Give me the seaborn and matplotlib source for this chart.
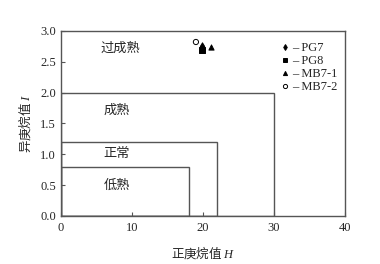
import matplotlib
matplotlib.use("Agg")
import matplotlib.pyplot as plt
import seaborn as sns
import pandas as pd
from matplotlib.patches import Rectangle
from matplotlib.lines import Line2D

sns.set_style("ticks")
plt.rcParams['font.family'] = ['Liberation Serif', 'Noto Sans CJK SC']
plt.rcParams['mathtext.fontset'] = 'custom'
plt.rcParams['mathtext.it'] = 'Liberation Serif:italic'
plt.rcParams['mathtext.rm'] = 'Liberation Serif'

samples = ["PG7", "PG8", "MB7-1", "MB7-2"]
heptane_H = [19.9, 19.8, 21.1, 19.0]
isoheptane_I = [2.76, 2.69, 2.74, 2.82]
markers = {"PG7": "d", "PG8": "s", "MB7-1": "^", "MB7-2": "o"}

zones = ["过成熟", "成熟", "正常", "低熟"]
zone_H_max = [30, 22, 18]
zone_I_max = [2.0, 1.2, 0.8]
zone_label_x = [8.4, 7.9, 7.9, 7.9]
zone_label_y = [2.72, 1.72, 1.02, 0.50]

df = pd.DataFrame({"sample": samples, "H": heptane_H, "I": isoheptane_I})

fig = plt.figure(figsize=(3.8, 2.64), dpi=100)
ax = fig.add_axes([0.1605, 0.182, 0.7475, 0.701])

for hx, iy in zip(zone_H_max, zone_I_max):
    ax.add_patch(Rectangle((0, 0), hx, iy, fill=False, edgecolor="#555555", linewidth=1.0))

for s in samples:
    sub = df[df["sample"] == s]
    fc = "none" if markers[s] == "o" else "black"
    sns.scatterplot(data=sub, x="H", y="I", marker=markers[s], s=14, facecolor=fc,
                    edgecolor="black", linewidth=0.7, zorder=3, ax=ax, legend=False)

for z, x, y in zip(zones, zone_label_x, zone_label_y):
    ax.text(x, y, z, ha="center", va="center", fontsize=9.5,
            family=['Noto Sans CJK SC'])

handles = []
for s in samples:
    fc = "none" if markers[s] == "o" else "black"
    handles.append(Line2D([], [], linestyle="none", marker=markers[s], markersize=3,
                          markerfacecolor=fc, markeredgecolor="black", markeredgewidth=0.7))
ax.legend(handles, ["– " + s for s in samples], loc="upper right", frameon=False,
          fontsize=9, handletextpad=0.1, labelspacing=0.08, borderaxespad=0.2,
          handlelength=1.0, bbox_to_anchor=(1.0, 0.98))

ax.set_xlim(0, 40)
ax.set_ylim(0, 3.0)
ax.set_xticks([0, 10, 20, 30, 40])
ax.set_yticks([0, 0.5, 1.0, 1.5, 2.0, 2.5, 3.0])
ax.set_yticklabels(["0.0", "0.5", "1.0", "1.5", "2.0", "2.5", "3.0"])
ax.tick_params(direction="in", length=3, labelsize=9, width=0.8, color="#555555")
ax.tick_params(axis="x", pad=4.5)
for sp in ax.spines.values():
    sp.set_color("#555555")
    sp.set_linewidth(1.0)
ax.set_xlabel("正庚烷值 $H$", fontsize=9, labelpad=7, family=['Noto Sans CJK SC'])
ax.set_ylabel("异庚烷值 $I$", fontsize=9, labelpad=5, family=['Noto Sans CJK SC'])

fig.savefig("out.png", dpi=100)
